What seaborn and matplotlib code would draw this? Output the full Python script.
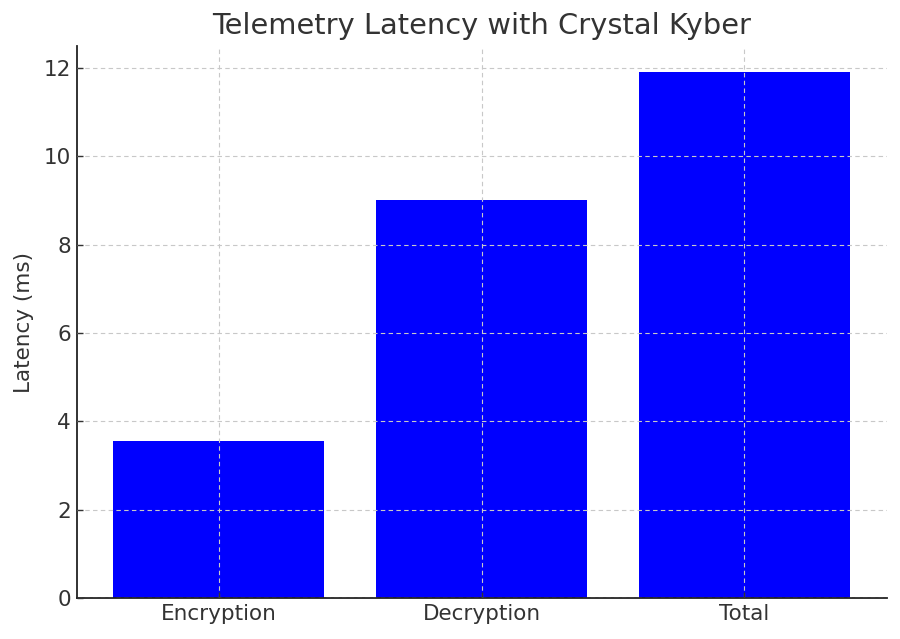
import matplotlib
matplotlib.use("Agg")
import matplotlib.pyplot as plt
import seaborn as sns
import pandas as pd

categories = ["Encryption", "Decryption", "Total"]
latency_ms = [3.55, 9.02, 11.9]

sns.set_style("white")
plt.rcParams['font.family'] = ['DejaVu Sans']
text_color = "#333333"
plt.rcParams.update({
    "text.color": text_color,
    "axes.labelcolor": text_color,
    "xtick.color": text_color,
    "ytick.color": text_color,
    "axes.edgecolor": "#222222",
})

df = pd.DataFrame({"Stage": categories, "Latency": latency_ms})

fig, ax = plt.subplots(figsize=(9, 6.39), dpi=100)
sns.barplot(data=df, x="Stage", y="Latency", color="blue", saturation=1,
            width=0.8, ax=ax)
for p in ax.patches:
    p.set_edgecolor("none")

ax.set_xlim(-0.54, 2.54)
ax.set_ylim(0, 12.495)
ax.set_title("Telemetry Latency with Crystal Kyber", fontsize=20.8,
             color=text_color, pad=9)
ax.set_xlabel("")
ax.set_ylabel("Latency (ms)", fontsize=15.5, labelpad=7)
ax.tick_params(axis="both", labelsize=15.5, length=4, width=1, direction="in",
               left=True, bottom=True, pad=4)
ax.grid(True, linestyle=(0, (4, 3)), color="#c8c8c8", linewidth=0.8)
ax.set_axisbelow(False)
sns.despine(ax=ax)
for s in ["left", "bottom"]:
    ax.spines[s].set_linewidth(1.3)
    ax.spines[s].set_color("#222222")

fig.subplots_adjust(left=0.085, right=0.985, bottom=0.064, top=0.928)
fig.savefig("out.png", dpi=100)
